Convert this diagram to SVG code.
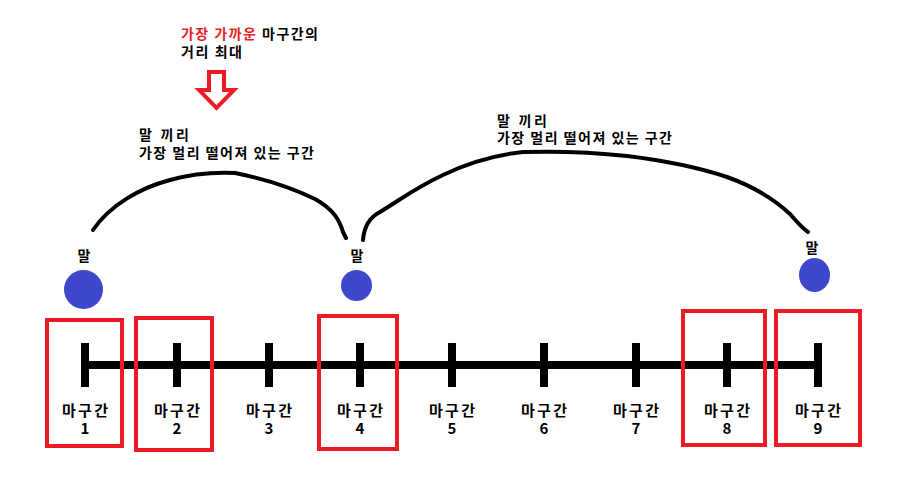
<svg xmlns="http://www.w3.org/2000/svg" width="915" height="477" viewBox="0 0 915 477">
<style>
text{font-family:"Noto Sans CJK KR","Noto Sans",sans-serif;fill:#000;font-weight:bold}
.lbl{font-size:15px;text-anchor:middle}
.sm{font-size:14px}
.horse{font-size:14px;text-anchor:middle}
.red{fill:#ED1C24}
.tick{stroke:#000;stroke-width:8}
.box{fill:none;stroke:#ED1C24;stroke-width:4}
.coin{fill:#3F48CC}
.arc{fill:none;stroke:#000;stroke-width:4;stroke-linecap:round;stroke-linejoin:round}
</style>
<rect width="915" height="477" fill="#fff"/>
<g id="timeline">
<line class="tick" x1="84" y1="365" x2="821" y2="365"/>
</g>
<g id="stall1"><line class="tick" x1="85" y1="343" x2="85" y2="387"/><text class="lbl" x="85" y="416" textLength="46" lengthAdjust="spacing">마구간</text><text class="lbl" x="85" y="434">1</text></g>
<g id="stall2"><line class="tick" x1="177" y1="343" x2="177" y2="387"/><text class="lbl" x="177" y="416" textLength="46" lengthAdjust="spacing">마구간</text><text class="lbl" x="177" y="434">2</text></g>
<g id="stall3"><line class="tick" x1="269" y1="343" x2="269" y2="387"/><text class="lbl" x="269" y="416" textLength="46" lengthAdjust="spacing">마구간</text><text class="lbl" x="269" y="434">3</text></g>
<g id="stall4"><line class="tick" x1="360" y1="343" x2="360" y2="387"/><text class="lbl" x="360" y="416" textLength="46" lengthAdjust="spacing">마구간</text><text class="lbl" x="360" y="434">4</text></g>
<g id="stall5"><line class="tick" x1="452" y1="343" x2="452" y2="387"/><text class="lbl" x="452" y="416" textLength="46" lengthAdjust="spacing">마구간</text><text class="lbl" x="452" y="434">5</text></g>
<g id="stall6"><line class="tick" x1="544" y1="343" x2="544" y2="387"/><text class="lbl" x="544" y="416" textLength="46" lengthAdjust="spacing">마구간</text><text class="lbl" x="544" y="434">6</text></g>
<g id="stall7"><line class="tick" x1="636" y1="343" x2="636" y2="387"/><text class="lbl" x="636" y="416" textLength="46" lengthAdjust="spacing">마구간</text><text class="lbl" x="636" y="434">7</text></g>
<g id="stall8"><line class="tick" x1="727" y1="343" x2="727" y2="387"/><text class="lbl" x="727" y="416" textLength="46" lengthAdjust="spacing">마구간</text><text class="lbl" x="727" y="434">8</text></g>
<g id="stall9"><line class="tick" x1="818" y1="343" x2="818" y2="387"/><text class="lbl" x="818" y="416" textLength="46" lengthAdjust="spacing">마구간</text><text class="lbl" x="818" y="434">9</text></g>
<g id="boxes">
<rect class="box" x="47" y="320" width="75" height="126"/>
<rect class="box" x="136" y="318" width="76" height="132"/>
<rect class="box" x="319" y="316" width="78" height="133"/>
<rect class="box" x="683" y="311" width="82" height="134"/>
<rect class="box" x="776" y="311" width="84" height="134"/>
</g>
<g id="horse1"><circle class="coin" cx="83.5" cy="289.5" r="19.5"/><text class="horse" x="84" y="261">말</text></g>
<g id="horse2"><circle class="coin" cx="356.5" cy="285.5" r="15.5"/><text class="horse" x="357" y="261">말</text></g>
<g id="horse3"><ellipse class="coin" cx="814.5" cy="275" rx="15.5" ry="17"/><text class="horse" x="812" y="253">말</text></g>
<g id="connectors">
<path class="arc" d="M93,230 C110,205 140,188 170,180 C195,173 215,172 235,173 C260,178 290,187 315,199 C335,210 340,222 343,232 L346,238"/>
<path class="arc" d="M363,240 C364,228 368,218 380,212 C400,200 415,188 443,175 C470,162 495,155 523,152 C560,151 600,153 627,156 C660,160 700,168 727,177 C755,187 775,200 790,214 C797,222 802,228 808,232"/>
</g>
<g id="gap1-label"><text class="sm" x="139" y="140" textLength="50" lengthAdjust="spacing">말 끼리</text><text class="sm" x="139" y="158" textLength="175" lengthAdjust="spacing">가장 멀리 떨어져 있는 구간</text></g>
<g id="gap2-label"><text class="sm" x="497" y="126" textLength="50" lengthAdjust="spacing">말 끼리</text><text class="sm" x="497" y="143" textLength="175" lengthAdjust="spacing">가장 멀리 떨어져 있는 구간</text></g>
<g id="title"><text class="sm" x="181" y="39" textLength="137" lengthAdjust="spacing"><tspan class="red">가장 가까운</tspan> 마구간의</text><text class="sm" x="181" y="57" textLength="61" lengthAdjust="spacing">거리 최대</text></g>
<g id="arrow"><polygon points="209,72 224,72 224,90 234,90 216.5,108 199,90 209,90" fill="#fff" stroke="#ED1C24" stroke-width="4" stroke-linejoin="miter"/></g>
</svg>
